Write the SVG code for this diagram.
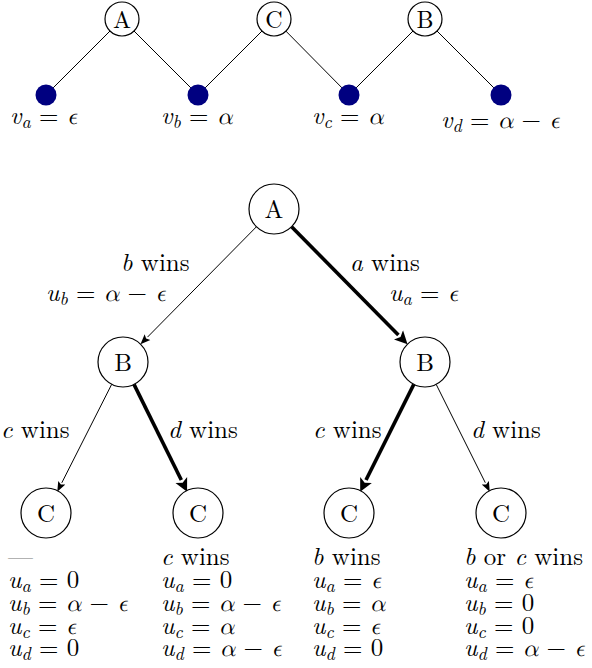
<svg xmlns="http://www.w3.org/2000/svg" width="592" height="668" viewBox="0 0 592 668">
<style>
text{font-family:Latin Modern Roman, Liberation Serif, serif;font-size:25px;fill:#000}
.it{font-style:italic}
.gr{font-family:Latin Modern Math, Liberation Serif, DejaVu Serif, serif;font-style:italic;font-size:24px}
.sb{font-size:18px;font-style:italic}
.nl{font-size:25px;text-anchor:middle}
.nls{font-size:24px;text-anchor:middle}
.node{fill:#fff;stroke:#000;stroke-width:1.2}
.dot{fill:#000080}
.thin{stroke:#000;stroke-width:1;fill:none}
.thick{stroke:#000;stroke-width:3.6;fill:none}
.gray{fill:#777}
</style>
<defs>
<marker id="arT" markerUnits="userSpaceOnUse" markerWidth="12" markerHeight="10" refX="0" refY="5" orient="auto" viewBox="0 0 12 10">
<path d="M0,1 L10,5 L0,9 L2,5 z" fill="#000"/>
</marker>
<marker id="arK" markerUnits="userSpaceOnUse" markerWidth="15" markerHeight="14" refX="0" refY="7" orient="auto" viewBox="0 0 15 14">
<path d="M0,0.5 L13,7 L0,13.5 L3,7 z" fill="#000"/>
</marker>
</defs>
<g font-family="Latin Modern Roman, Liberation Serif, serif">
<g id="connectors">
<line class="thin" x1="110" y1="31" x2="53.1" y2="87.9"/>
<line class="thin" x1="134" y1="31" x2="190.9" y2="87.9"/>
<line class="thin" x1="262" y1="31" x2="205.1" y2="87.9"/>
<line class="thin" x1="285.9" y1="31.1" x2="342" y2="87.9"/>
<line class="thin" x1="413" y1="31" x2="356.1" y2="87.9"/>
<line class="thin" x1="437" y1="31" x2="493.9" y2="87.9"/>
<line class="thin" x1="256.4" y1="226.8" x2="147.5" y2="337.1" marker-end="url(#arT)"/>
<line class="thick" x1="291.6" y1="226.8" x2="398.4" y2="334.9" marker-end="url(#arK)"/>
<line class="thin" x1="111.7" y1="384.3" x2="61.8" y2="482.8" marker-end="url(#arT)"/>
<line class="thick" x1="134" y1="384.4" x2="181.3" y2="480" marker-end="url(#arK)"/>
<line class="thick" x1="413.8" y1="384.4" x2="366" y2="480" marker-end="url(#arK)"/>
<line class="thin" x1="436.2" y1="384.4" x2="485.3" y2="482.7" marker-end="url(#arT)"/>
</g>

<g id="top-A"><circle class="node" cx="122" cy="19" r="17"/><text class="nls" x="122" y="27.5">A</text></g>
<g id="top-C"><circle class="node" cx="274" cy="19" r="17"/><text class="nls" x="274" y="27.5">C</text></g>
<g id="top-B"><circle class="node" cx="425" cy="19" r="17"/><text class="nls" x="425" y="27.5">B</text></g>

<g id="dot-a"><circle class="dot" cx="46" cy="95" r="10.5"/>
<text x="10" y="124"><tspan class="it">v</tspan><tspan class="sb" dy="4">a</tspan><tspan dy="-4"> = </tspan><tspan class="gr">ϵ</tspan></text></g>
<g id="dot-b"><circle class="dot" cx="198" cy="95" r="10.5"/>
<text x="161" y="124"><tspan class="it">v</tspan><tspan class="sb" dy="4">b</tspan><tspan dy="-4"> = </tspan><tspan class="gr">α</tspan></text></g>
<g id="dot-c"><circle class="dot" cx="349" cy="95" r="10.5"/>
<text x="312" y="124"><tspan class="it">v</tspan><tspan class="sb" dy="4">c</tspan><tspan dy="-4"> = </tspan><tspan class="gr">α</tspan></text></g>
<g id="dot-d"><circle class="dot" cx="501" cy="95" r="10.5"/>
<text x="441" y="128"><tspan class="it">v</tspan><tspan class="sb" dy="4">d</tspan><tspan dy="-4"> = </tspan><tspan class="gr">α</tspan> − <tspan class="gr">ϵ</tspan></text></g>

<g id="root-A"><circle class="node" cx="274" cy="209" r="25"/><text class="nl" x="274" y="217.5">A</text></g>
<g id="B-left"><circle class="node" cx="123" cy="362" r="25"/><text class="nl" x="123" y="370.5">B</text></g>
<g id="B-right"><circle class="node" cx="425" cy="362" r="25"/><text class="nl" x="425" y="370.5">B</text></g>
<g id="C1"><circle class="node" cx="46" cy="513" r="25"/><text class="nl" x="46" y="521.5">C</text></g>
<g id="C2"><circle class="node" cx="198" cy="513" r="25"/><text class="nl" x="198" y="521.5">C</text></g>
<g id="C3"><circle class="node" cx="349" cy="513" r="25"/><text class="nl" x="349" y="521.5">C</text></g>
<g id="C4"><circle class="node" cx="501" cy="513" r="25"/><text class="nl" x="501" y="521.5">C</text></g>

<g id="edge-labels">
<text x="121" y="271"><tspan class="it">b</tspan> wins</text>
<text x="46" y="301"><tspan class="it">u</tspan><tspan class="sb" dy="4">b</tspan><tspan dy="-4"> = </tspan><tspan class="gr">α</tspan> − <tspan class="gr">ϵ</tspan></text>
<text x="350" y="271"><tspan class="it">a</tspan> wins</text>
<text x="389" y="301"><tspan class="it">u</tspan><tspan class="sb" dy="4">a</tspan><tspan dy="-4"> = </tspan><tspan class="gr">ϵ</tspan></text>
<text x="1" y="438"><tspan class="it">c</tspan> wins</text>
<text x="168" y="438"><tspan class="it">d</tspan> wins</text>
<text x="313" y="438"><tspan class="it">c</tspan> wins</text>
<text x="471" y="438"><tspan class="it">d</tspan> wins</text>
</g>

<g id="outcome-1">
<text class="gray" x="8" y="565">—</text>
<text x="8" y="588"><tspan class="it">u</tspan><tspan class="sb" dy="4">a</tspan><tspan dy="-4"> = 0</tspan></text>
<text x="8" y="611"><tspan class="it">u</tspan><tspan class="sb" dy="4">b</tspan><tspan dy="-4"> = </tspan><tspan class="gr">α</tspan> − <tspan class="gr">ϵ</tspan></text>
<text x="8" y="634"><tspan class="it">u</tspan><tspan class="sb" dy="4">c</tspan><tspan dy="-4"> = </tspan><tspan class="gr">ϵ</tspan></text>
<text x="8" y="656"><tspan class="it">u</tspan><tspan class="sb" dy="4">d</tspan><tspan dy="-4"> = 0</tspan></text>
</g>
<g id="outcome-2">
<text x="161" y="565"><tspan class="it">c</tspan> wins</text>
<text x="161" y="588"><tspan class="it">u</tspan><tspan class="sb" dy="4">a</tspan><tspan dy="-4"> = 0</tspan></text>
<text x="161" y="611"><tspan class="it">u</tspan><tspan class="sb" dy="4">b</tspan><tspan dy="-4"> = </tspan><tspan class="gr">α</tspan> − <tspan class="gr">ϵ</tspan></text>
<text x="161" y="634"><tspan class="it">u</tspan><tspan class="sb" dy="4">c</tspan><tspan dy="-4"> = </tspan><tspan class="gr">α</tspan></text>
<text x="161" y="656"><tspan class="it">u</tspan><tspan class="sb" dy="4">d</tspan><tspan dy="-4"> = </tspan><tspan class="gr">α</tspan> − <tspan class="gr">ϵ</tspan></text>
</g>
<g id="outcome-3">
<text x="312" y="565"><tspan class="it">b</tspan> wins</text>
<text x="312" y="588"><tspan class="it">u</tspan><tspan class="sb" dy="4">a</tspan><tspan dy="-4"> = </tspan><tspan class="gr">ϵ</tspan></text>
<text x="312" y="611"><tspan class="it">u</tspan><tspan class="sb" dy="4">b</tspan><tspan dy="-4"> = </tspan><tspan class="gr">α</tspan></text>
<text x="312" y="634"><tspan class="it">u</tspan><tspan class="sb" dy="4">c</tspan><tspan dy="-4"> = </tspan><tspan class="gr">ϵ</tspan></text>
<text x="312" y="656"><tspan class="it">u</tspan><tspan class="sb" dy="4">d</tspan><tspan dy="-4"> = 0</tspan></text>
</g>
<g id="outcome-4">
<text x="464" y="565"><tspan class="it">b</tspan> or <tspan class="it">c</tspan> wins</text>
<text x="464" y="588"><tspan class="it">u</tspan><tspan class="sb" dy="4">a</tspan><tspan dy="-4"> = </tspan><tspan class="gr">ϵ</tspan></text>
<text x="464" y="611"><tspan class="it">u</tspan><tspan class="sb" dy="4">b</tspan><tspan dy="-4"> = 0</tspan></text>
<text x="464" y="634"><tspan class="it">u</tspan><tspan class="sb" dy="4">c</tspan><tspan dy="-4"> = 0</tspan></text>
<text x="464" y="656"><tspan class="it">u</tspan><tspan class="sb" dy="4">d</tspan><tspan dy="-4"> = </tspan><tspan class="gr">α</tspan> − <tspan class="gr">ϵ</tspan></text>
</g>
</g>
</svg>
